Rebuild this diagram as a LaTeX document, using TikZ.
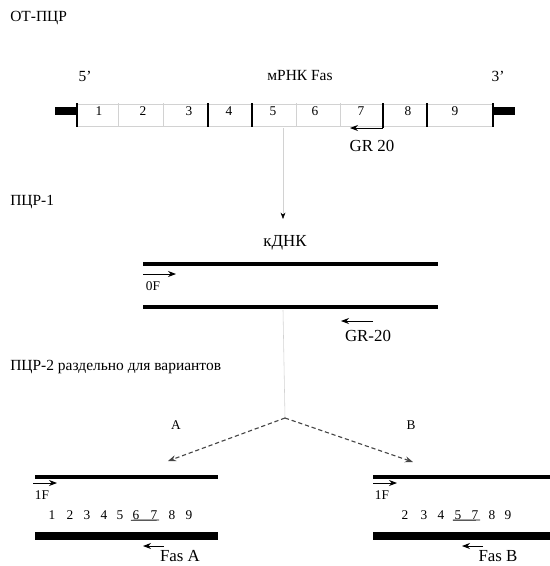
\documentclass[tikz,border=0pt]{standalone}
\usepackage{fontspec}
\setmainfont{Liberation Serif}
\usetikzlibrary{arrows.meta,calc,positioning}
\tikzset{
  strand/.style  = {line width=3.5pt},
  primer/.style  = {-{Stealth[length=2mm]}, semithick},
  bar/.style     = {line width=1.2pt},
  faint/.style   = {gray!35, thin},
  lbl/.style     = {font=\fontsize{12}{14}\selectfont, inner sep=1pt},
  small/.style   = {font=\fontsize{9.5}{11}\selectfont, inner sep=1pt},
  title/.style   = {font=\fontsize{11}{13}\selectfont, anchor=west, inner sep=0pt},
  split/.style   = {-{Stealth[length=2mm]}, densely dashed, thick, gray!55!black},
}

\begin{document}
\begin{tikzpicture}[x=0.025cm,y=-0.025cm]
  \useasboundingbox (0,0) rectangle (550,566);
  % section titles
  \node[title] (t1) at (10,18)  {ОТ-ПЦР};
  \node[title] (t2) at (10,202) {ПЦР-1};
  \node[title] (t3) at (10,367) {ПЦР-2 раздельно для вариантов};

  % mRNA
  \node[title,anchor=center] (p5) at (85,76)  {5'};
  \node[title,anchor=center] (mr) at (300,76) {мРНК Fas};
  \node[title,anchor=center] (p3) at (498,76) {3'};
  \coordinate (mL) at (77,104);
  \coordinate (mR) at (493,126);
  \draw[faint] (mL) rectangle (mR);
  \foreach \x/\s in {118/faint,163/faint,208/bar,252/bar,296/faint,340/faint,427/bar,77/bar,493/bar}
    \draw[\s] (\x,103) -- (\x,127);
  \draw[line width=6pt] (55,111) -- (77,111);
  \draw[line width=6pt] (493,111) -- (515,111);
  \foreach \n/\x in {1/99,2/143,3/189,4/229,5/273,6/315,7/361,8/408,9/455}
    \node[small] (e\n) at (\x,111) {\n};
  \coordinate (g0) at (383,103);
  \coordinate (g1) at (383,128);
  \coordinate (g2) at (350,128);
  \draw[bar] (g0) -- (g1);
  \draw[primer] (g1) -- (g2);
  \node[lbl] (gr1) at (372,146) {GR 20};

  % to cDNA
  \coordinate (d0) at (283,128);
  \coordinate (d1) at (283,219);
  \draw[faint,-{Stealth[length=1.6mm,black]}] (d0) -- (d1);

  % cDNA
  \node[lbl] (cd) at (285,243) {кДНК};
  \coordinate (c1) at (143,264);
  \coordinate (c2) at (438,264);
  \coordinate (c3) at (143,307);
  \coordinate (c4) at (438,307);
  \draw[strand] (c1) -- (c2);
  \draw[strand] (c3) -- (c4);
  \coordinate (f0a) at (143,274);
  \coordinate (f0b) at (176,274);
  \draw[primer] (f0a) -- (f0b);
  \node[small] (f0) at (153,286) {0F};
  \coordinate (r0a) at (373,321);
  \coordinate (r0b) at (341,321);
  \draw[primer] (r0a) -- (r0b);
  \node[lbl] (gr2) at (368,336) {GR-20};

  % split into variants
  \coordinate (s0) at (283,310);
  \coordinate (ap) at (285,418);
  \coordinate (sa) at (168,461);
  \coordinate (sb) at (413,462);
  \draw[faint] (s0) -- (ap);
  \draw[split] (ap) -- (sa);
  \draw[split] (ap) -- (sb);
  \node[small] (la) at (176,425) {A};
  \node[small] (lb) at (411,425) {B};

  % variant A
  \coordinate (a1) at (35,477);
  \coordinate (a2) at (218,477);
  \coordinate (a3) at (35,536);
  \coordinate (a4) at (218,536);
  \draw[line width=3pt] (a1) -- (a2);
  \draw[line width=5pt] (a3) -- (a4);
  \coordinate (fa1) at (33,483);
  \coordinate (fa2) at (57,483);
  \draw[primer] (fa1) -- (fa2);
  \node[small] (f1a) at (42,495) {1F};
  \foreach \n/\x in {1/52,2/70,3/87,4/104,5/120,6/136,7/154,8/172,9/189}
    \node[small] (xa\n) at (\x,515) {\n};
  \draw[semithick] ($(xa6.south west)+(0,-1)$) -- ($(xa7.south east)+(0,-1)$);
  \coordinate (ra1) at (164,546);
  \coordinate (ra2) at (143,546);
  \draw[primer] (ra1) -- (ra2);
  \node[lbl] (fasa) at (180,556) {Fas A};

  % variant B
  \coordinate (b1) at (373,477);
  \coordinate (b2) at (550,477);
  \coordinate (b3) at (373,536);
  \coordinate (b4) at (550,536);
  \draw[line width=3pt] (b1) -- (b2);
  \draw[line width=5pt] (b3) -- (b4);
  \coordinate (fb1) at (373,483);
  \coordinate (fb2) at (397,483);
  \draw[primer] (fb1) -- (fb2);
  \node[small] (f1b) at (382,495) {1F};
  \foreach \n/\x in {2/405,3/424,4/441,5/458,7/475,8/492,9/508}
    \node[small] (xb\n) at (\x,515) {\n};
  \draw[semithick] ($(xb5.south west)+(0,-1)$) -- ($(xb7.south east)+(0,-1)$);
  \coordinate (rb1) at (483,546);
  \coordinate (rb2) at (462,546);
  \draw[primer] (rb1) -- (rb2);
  \node[lbl] (fasb) at (498,556) {Fas B};
\end{tikzpicture}
\end{document}
